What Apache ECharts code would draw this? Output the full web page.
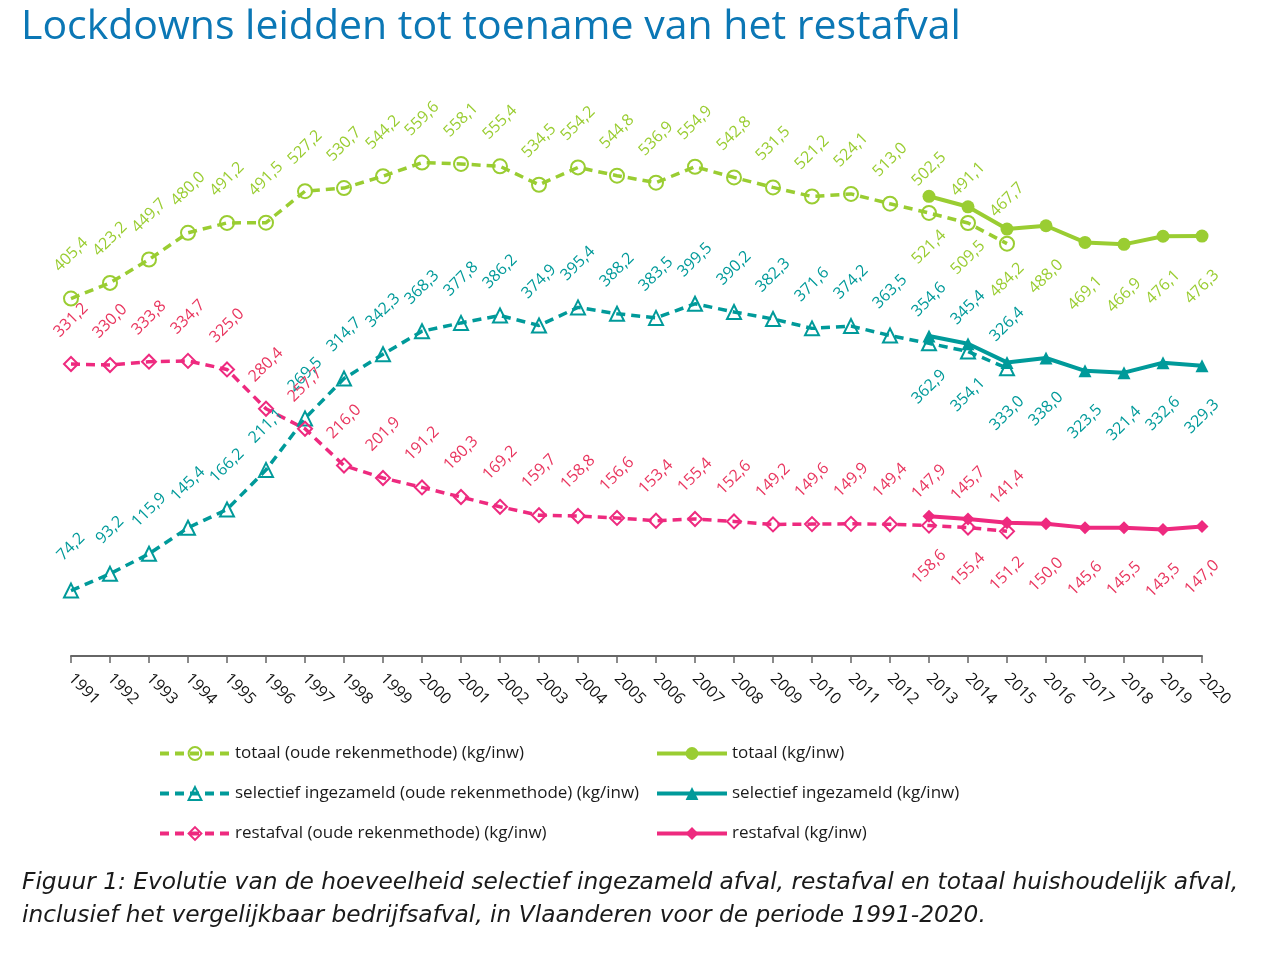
<!DOCTYPE html>
<html>
<head>
<meta charset="utf-8">
<script src="https://cdn.jsdelivr.net/npm/echarts@6/dist/echarts.min.js"></script>
<style>
  html, body { margin: 0; padding: 0; background: #fff; }
  #chart { width: 1284px; height: 953px; }
</style>
</head>
<body>
<div id="chart"></div>
<script>
// jaren
const years = ['1991', '1992', '1993', '1994', '1995', '1996', '1997', '1998', '1999', '2000',
    '2001', '2002', '2003', '2004', '2005', '2006', '2007', '2008', '2009', '2010',
    '2011', '2012', '2013', '2014', '2015', '2016', '2017', '2018', '2019', '2020'];

// oude rekenmethode, 1991-2015
const totaalOud = [405.4, 423.2, 449.7, 480.0, 491.2, 491.5, 527.2, 530.7, 544.2, 559.6,
    558.1, 555.4, 534.5, 554.2, 544.8, 536.9, 554.9, 542.8, 531.5, 521.2,
    524.1, 513.0, 502.5, 491.1, 467.7];
const selectiefOud = [74.2, 93.2, 115.9, 145.4, 166.2, 211.1, 269.5, 314.7, 342.3, 368.3,
    377.8, 386.2, 374.9, 395.4, 388.2, 383.5, 399.5, 390.2, 382.3, 371.6,
    374.2, 363.5, 354.6, 345.4, 326.4];
const restOud = [331.2, 330.0, 333.8, 334.7, 325.0, 280.4, 257.7, 216.0, 201.9, 191.2,
    180.3, 169.2, 159.7, 158.8, 156.6, 153.4, 155.4, 152.6, 149.2, 149.6,
    149.9, 149.4, 147.9, 145.7, 141.4];

// nieuwe rekenmethode, 2013-2020
const newStart = '2013';
const totaalNieuw = [521.4, 509.5, 484.2, 488.0, 469.1, 466.9, 476.1, 476.3];
const selectiefNieuw = [362.9, 354.1, 333.0, 338.0, 323.5, 321.4, 332.6, 329.3];
const restNieuw = [158.6, 155.4, 151.2, 150.0, 145.6, 145.5, 143.5, 147.0];

const GREEN = '#9acd32';
const TEAL = '#009a9a';
const PINK = '#ee2a7f';
const PINK_TXT = '#e9365f';
const FONT = '"Open Sans", "Noto Sans", sans-serif';

const pad = (arr, from) => {
    const out = years.map(() => null);
    const i0 = years.indexOf(from);
    arr.forEach((v, i) => { out[i0 + i] = v; });
    return out;
};

const fmt = p => p.value == null ? '' : p.value.toFixed(1).replace('.', ',');

const oldSeries = (name, data, color, txtColor, symbol) => ({
    name,
    type: 'line',
    data: pad(data, years[0]),
    symbol,
    symbolSize: 14,
    showAllSymbol: true,
    lineStyle: { color, width: 3.5, type: [9, 6] },
    itemStyle: { color: 'transparent', borderColor: color, borderWidth: 2 },
    label: {
        show: true,
        position: 'inside',
        rotate: 45,
        align: 'center',
        verticalAlign: 'middle',
        offset: [31, -31],
        color: txtColor,
        fontFamily: FONT,
        fontSize: 16,
        formatter: fmt
    },
    z: 2
});

const newSeries = (name, data, color, txtColor, symbol, size) => ({
    name,
    type: 'line',
    data: pad(data, newStart),
    symbol,
    symbolSize: size,
    showAllSymbol: true,
    lineStyle: { color, width: 4 },
    itemStyle: { color },
    label: {
        show: true,
        position: 'inside',
        rotate: 45,
        align: 'center',
        verticalAlign: 'middle',
        offset: [-36, 36],
        color: txtColor,
        fontFamily: FONT,
        fontSize: 16,
        formatter: fmt
    },
    z: 3
});

const chart = echarts.init(document.getElementById('chart'));

const legendText = { color: '#1a1a1a', fontFamily: FONT, fontSize: 17, lineHeight: 16 };

chart.setOption({
    animation: false,
    textStyle: { fontFamily: FONT },
    grid: { left: 71, right: 82, top: 127, bottom: 297 },
    xAxis: {
        type: 'category',
        data: years,
        boundaryGap: false,
        axisLine: { lineStyle: { color: '#666', width: 2 } },
        axisTick: { show: true, length: 7, lineStyle: { color: '#666', width: 1.5 }, alignWithLabel: true },
        axisLabel: { rotate: -45, margin: 20, color: '#111', fontSize: 16, fontFamily: FONT, interval: 0 }
    },
    yAxis: { type: 'value', min: 0, max: 600, show: false },
    legend: [{
        orient: 'vertical',
        left: 153,
        top: 740,
        itemWidth: 70,
        itemHeight: 16,
        itemGap: 23,
        lineStyle: { width: 4 },
        textStyle: legendText,
        data: ['totaal (oude rekenmethode) (kg/inw)',
            'selectief ingezameld (oude rekenmethode) (kg/inw)',
            'restafval (oude rekenmethode) (kg/inw)']
    }, {
        orient: 'vertical',
        left: 650,
        top: 740,
        itemWidth: 70,
        itemHeight: 16,
        itemGap: 23,
        lineStyle: { width: 4 },
        textStyle: legendText,
        data: ['totaal (kg/inw)', 'selectief ingezameld (kg/inw)', 'restafval (kg/inw)']
    }],
    graphic: [{
        type: 'text',
        left: 21,
        top: 7,
        style: {
            text: 'Lockdowns leidden tot toename van het restafval',
            fill: '#0b77b5',
            font: '41px "Open Sans", "Noto Sans", sans-serif'
        }
    }, {
        type: 'text',
        left: 22,
        top: 866,
        style: {
            text: 'Figuur 1: Evolutie van de hoeveelheid selectief ingezameld afval, restafval en totaal huishoudelijk afval,\ninclusief het vergelijkbaar bedrijfsafval, in Vlaanderen voor de periode 1991-2020.',
            fill: '#1a1a1a',
            font: 'italic 23.3px "DejaVu Sans", sans-serif',
            lineHeight: 33
        }
    }],
    series: [
        oldSeries('totaal (oude rekenmethode) (kg/inw)', totaalOud, GREEN, GREEN, 'circle'),
        oldSeries('selectief ingezameld (oude rekenmethode) (kg/inw)', selectiefOud, TEAL, TEAL, 'triangle'),
        oldSeries('restafval (oude rekenmethode) (kg/inw)', restOud, PINK, PINK_TXT, 'diamond'),
        newSeries('totaal (kg/inw)', totaalNieuw, GREEN, GREEN, 'circle', 13),
        newSeries('selectief ingezameld (kg/inw)', selectiefNieuw, TEAL, TEAL, 'triangle', 13),
        newSeries('restafval (kg/inw)', restNieuw, PINK, PINK_TXT, 'diamond', 13)
    ]
});
</script>
</body>
</html>
